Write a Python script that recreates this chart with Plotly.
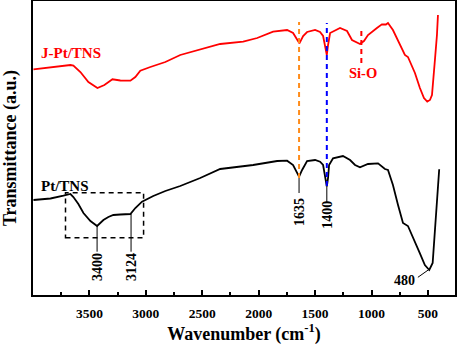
import plotly.graph_objects as go

# FTIR spectra (wavenumber cm-1, transmittance a.u.)
red_wn = [3996, 3845, 3668, 3642, 3580, 3509, 3429, 3367, 3296, 3226, 3137, 3093, 3049, 2960,
          2827, 2695, 2544, 2341, 2137, 2013, 1872, 1748, 1695, 1668, 1639, 1606, 1571, 1500,
          1456, 1429, 1412, 1396, 1385, 1367, 1279, 1217, 1173, 1137, 1102, 1067, 1031, 952,
          908, 872, 854, 810, 748, 704, 677, 615, 571, 535, 506, 482, 464, 447, 438, 420, 411]
red_t = [225.7, 228, 230, 229.5, 223, 213, 207, 210, 215.7, 214.5, 214.3, 218, 224.3, 228,
         233, 240, 245, 251, 253.3, 257, 263.3, 265, 262, 257, 251.7, 259, 263, 265,
         263, 259, 250, 240, 250, 262, 267, 264, 255, 253, 251, 254, 260, 267,
         270.7, 270.5, 272, 265, 250, 240, 238, 222, 207, 197, 193.3, 195, 200, 220, 235, 260, 280]

black_wn = [3996, 3845, 3730, 3668, 3642, 3598, 3553, 3491, 3432, 3376, 3332, 3288, 3226, 3137,
            3093, 3034, 2934, 2827, 2695, 2518, 2341, 2049, 1836, 1748, 1695, 1668, 1642, 1615,
            1571, 1500, 1456, 1429, 1412, 1396, 1385, 1376, 1341, 1253, 1190, 1146, 1102, 1031,
            942, 881, 854, 810, 765, 721, 677, 633, 571, 527, 488, 458, 438, 418, 400]
black_t = [95, 96.5, 99.3, 101, 98, 91, 82, 74, 69, 75, 78, 80, 80.5, 81,
           87, 93.3, 99, 104, 109, 117, 126, 130, 134, 134.3, 130, 124, 118.3, 125,
           134, 135, 133.3, 130, 117, 108.3, 117, 130, 136.7, 139, 135, 130, 127.7, 131,
           131.7, 126, 125, 110, 90, 72, 69, 58.3, 41.7, 30, 25, 32, 65, 105, 125.7]

peak_labels = ["3400", "3124", "1635", "1400"]
peak_wn = [3432, 3131, 1642, 1396]
peak_line_top = [69, 81, 117, 108]
peak_line_bottom = [43.3, 43.3, 102, 93]
peak_label_y = [28, 28, 83, 80]

ref_wn = [1642, 1396, 1090]
ref_colors = ["#FF8C1A", "#0000FF", "#FF0000"]
ref_top = [273, 272, 267]
ref_bottom = [117, 109, 232]

box_wn = [3712, 3020]
box_t = [57.3, 102.3]

x_ticks = [3500, 3000, 2500, 2000, 1500, 1000, 500]

FONT = "Liberation Serif"

fig = go.Figure()
fig.add_trace(go.Scatter(x=red_wn, y=red_t, mode="lines",
                         line=dict(color="#FF0000", width=1.8), showlegend=False))
fig.add_trace(go.Scatter(x=black_wn, y=black_t, mode="lines",
                         line=dict(color="#000000", width=1.8), showlegend=False))

shapes = []
for wn, c, t0, t1 in zip(ref_wn, ref_colors, ref_top, ref_bottom):
    shapes.append(dict(type="line", x0=wn, x1=wn, y0=t1, y1=t0, xref="x", yref="y",
                       line=dict(color=c, width=2, dash="5px,4px")))
shapes.append(dict(type="rect", x0=box_wn[0], x1=box_wn[1], y0=box_t[0], y1=box_t[1],
                   xref="x", yref="y", line=dict(color="black", width=1.5, dash="5px,4px")))
for wn, t0, t1 in zip(peak_wn, peak_line_top, peak_line_bottom):
    shapes.append(dict(type="line", x0=wn, x1=wn, y0=t1, y1=t0, xref="x", yref="y",
                       line=dict(color="black", width=1)))
shapes.append(dict(type="line", x0=485, x1=589, y0=26, y1=17.7, xref="x", yref="y",
                   line=dict(color="black", width=1)))

annotations = []
for lab, wn, ly in zip(peak_labels, peak_wn, peak_label_y):
    annotations.append(dict(x=wn, y=ly, text=lab, textangle=-90, showarrow=False,
                            font=dict(family=FONT, size=14, color="black", weight="bold")))
annotations.append(dict(x=706, y=14.3, text="480", showarrow=False,
                        font=dict(family=FONT, size=14, color="black", weight="bold")))
annotations.append(dict(x=1076, y=222.3, text="Si-O", showarrow=False,
                        font=dict(family=FONT, size=14.5, color="#FF0000", weight="bold")))
annotations.append(dict(x=3951, y=242, text="J-Pt/TNS", showarrow=False, xanchor="left",
                        font=dict(family=FONT, size=15, color="#FF0000", weight="bold")))
annotations.append(dict(x=3951, y=109.3, text="Pt/TNS", showarrow=False, xanchor="left",
                        font=dict(family=FONT, size=15, color="black", weight="bold")))

fig.update_layout(
    width=457, height=345,
    margin=dict(l=33, r=2, t=1, b=50),
    paper_bgcolor="white", plot_bgcolor="white",
    shapes=shapes, annotations=annotations,
    xaxis=dict(range=[4000, 260], tickvals=x_ticks, ticks="inside", ticklen=5, tickwidth=1.5,
               tickcolor="black", showline=True, linecolor="black", linewidth=2, mirror=True,
               showgrid=False, zeroline=False, ticklabelstandoff=5, automargin=False,
               minor=dict(dtick=250, tick0=0, ticks="inside", ticklen=3, tickcolor="black"),
               tickfont=dict(family=FONT, size=13.5, color="black", weight="bold"),
               title=dict(text="Wavenumber (cm<sup>-1</sup>)", standoff=4,
                          font=dict(family=FONT, size=18, color="black", weight="bold"))),
    yaxis=dict(range=[0, 294], showticklabels=False, ticks="", showline=True, linecolor="black",
               linewidth=2, mirror=True, showgrid=False, zeroline=False, automargin=False,
               title=dict(text="Transmittance (a.u.)", standoff=17,
                          font=dict(family=FONT, size=18, color="black", weight="bold"))),
)

fig.write_html("out.html", config={"displayModeBar": False},
               post_script="document.body.style.margin='0';document.body.style.overflow='hidden';")
